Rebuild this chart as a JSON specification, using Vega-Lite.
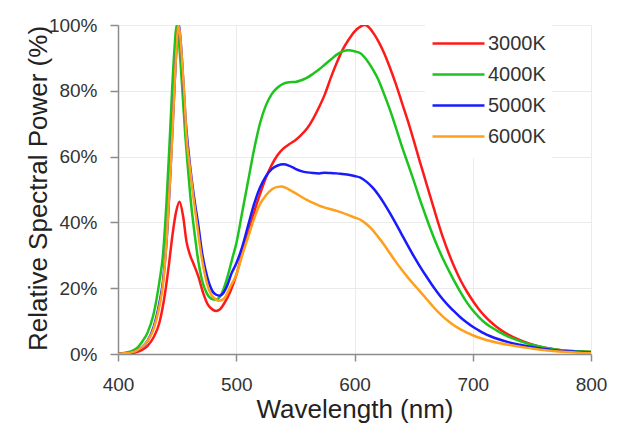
{
  "$schema": "https://vega.github.io/schema/vega-lite/v6.json",
  "width": 473,
  "height": 329,
  "autosize": {"type": "none"},
  "padding": {"left": 118, "top": 25, "right": 32, "bottom": 80},
  "background": "white",
  "config": {"view": {"stroke": null}, "font": "Liberation Sans"},
  "datasets": {
    "spd": [
      {"nm":400,"p":0.1,"s":"3000K"},{"nm":410,"p":0.2,"s":"3000K"},{"nm":415,"p":0.5,"s":"3000K"},{"nm":420,"p":1.2,"s":"3000K"},{"nm":425,"p":2.5,"s":"3000K"},{"nm":430,"p":5,"s":"3000K"},{"nm":435,"p":9.5,"s":"3000K"},{"nm":440,"p":19,"s":"3000K"},{"nm":443,"p":27,"s":"3000K"},{"nm":446,"p":36,"s":"3000K"},{"nm":449,"p":43,"s":"3000K"},{"nm":452,"p":46.3,"s":"3000K"},{"nm":455,"p":42,"s":"3000K"},{"nm":458,"p":34,"s":"3000K"},{"nm":461,"p":30,"s":"3000K"},{"nm":464,"p":27.3,"s":"3000K"},{"nm":468,"p":23.5,"s":"3000K"},{"nm":472,"p":18.6,"s":"3000K"},{"nm":476,"p":15,"s":"3000K"},{"nm":480,"p":13.5,"s":"3000K"},{"nm":483,"p":13.1,"s":"3000K"},{"nm":486,"p":13.5,"s":"3000K"},{"nm":490,"p":15.5,"s":"3000K"},{"nm":495,"p":19,"s":"3000K"},{"nm":500,"p":24,"s":"3000K"},{"nm":505,"p":30.5,"s":"3000K"},{"nm":510,"p":36.5,"s":"3000K"},{"nm":515,"p":43,"s":"3000K"},{"nm":520,"p":48.5,"s":"3000K"},{"nm":525,"p":53.5,"s":"3000K"},{"nm":530,"p":57.5,"s":"3000K"},{"nm":535,"p":60.5,"s":"3000K"},{"nm":540,"p":62.5,"s":"3000K"},{"nm":545,"p":63.8,"s":"3000K"},{"nm":550,"p":65,"s":"3000K"},{"nm":555,"p":66.6,"s":"3000K"},{"nm":560,"p":68.6,"s":"3000K"},{"nm":565,"p":71.5,"s":"3000K"},{"nm":570,"p":75,"s":"3000K"},{"nm":575,"p":79,"s":"3000K"},{"nm":580,"p":84,"s":"3000K"},{"nm":585,"p":88.5,"s":"3000K"},{"nm":590,"p":92.5,"s":"3000K"},{"nm":595,"p":95.5,"s":"3000K"},{"nm":600,"p":98,"s":"3000K"},{"nm":605,"p":99.5,"s":"3000K"},{"nm":609,"p":100,"s":"3000K"},{"nm":613,"p":99,"s":"3000K"},{"nm":617,"p":97,"s":"3000K"},{"nm":621,"p":94.5,"s":"3000K"},{"nm":625,"p":91.5,"s":"3000K"},{"nm":630,"p":87,"s":"3000K"},{"nm":635,"p":82,"s":"3000K"},{"nm":640,"p":76.5,"s":"3000K"},{"nm":645,"p":71,"s":"3000K"},{"nm":650,"p":65,"s":"3000K"},{"nm":655,"p":58.8,"s":"3000K"},{"nm":660,"p":52.8,"s":"3000K"},{"nm":665,"p":46.8,"s":"3000K"},{"nm":670,"p":40.8,"s":"3000K"},{"nm":675,"p":35.2,"s":"3000K"},{"nm":680,"p":30.3,"s":"3000K"},{"nm":685,"p":26,"s":"3000K"},{"nm":690,"p":22.2,"s":"3000K"},{"nm":695,"p":19,"s":"3000K"},{"nm":700,"p":16.2,"s":"3000K"},{"nm":705,"p":13.7,"s":"3000K"},{"nm":710,"p":11.6,"s":"3000K"},{"nm":715,"p":9.8,"s":"3000K"},{"nm":720,"p":8.3,"s":"3000K"},{"nm":730,"p":5.9,"s":"3000K"},{"nm":740,"p":4.2,"s":"3000K"},{"nm":750,"p":2.9,"s":"3000K"},{"nm":760,"p":2,"s":"3000K"},{"nm":770,"p":1.4,"s":"3000K"},{"nm":780,"p":1,"s":"3000K"},{"nm":790,"p":0.8,"s":"3000K"},{"nm":800,"p":0.6,"s":"3000K"},

      {"nm":400,"p":0.2,"s":"4000K"},{"nm":405,"p":0.3,"s":"4000K"},{"nm":410,"p":0.7,"s":"4000K"},{"nm":415,"p":1.5,"s":"4000K"},{"nm":420,"p":3.5,"s":"4000K"},{"nm":425,"p":6.5,"s":"4000K"},{"nm":430,"p":12,"s":"4000K"},{"nm":435,"p":22,"s":"4000K"},{"nm":438,"p":30,"s":"4000K"},{"nm":441,"p":46,"s":"4000K"},{"nm":444,"p":67,"s":"4000K"},{"nm":446,"p":82,"s":"4000K"},{"nm":448,"p":94,"s":"4000K"},{"nm":449.5,"p":100,"s":"4000K"},{"nm":451,"p":97,"s":"4000K"},{"nm":453,"p":88,"s":"4000K"},{"nm":455,"p":77,"s":"4000K"},{"nm":457,"p":66,"s":"4000K"},{"nm":459,"p":57,"s":"4000K"},{"nm":462,"p":45,"s":"4000K"},{"nm":465,"p":36,"s":"4000K"},{"nm":468,"p":28,"s":"4000K"},{"nm":471,"p":22.5,"s":"4000K"},{"nm":475,"p":18.5,"s":"4000K"},{"nm":479,"p":16.8,"s":"4000K"},{"nm":483,"p":16.5,"s":"4000K"},{"nm":486,"p":17.3,"s":"4000K"},{"nm":489,"p":19.5,"s":"4000K"},{"nm":493,"p":24,"s":"4000K"},{"nm":497,"p":29.5,"s":"4000K"},{"nm":500,"p":33.5,"s":"4000K"},{"nm":505,"p":43,"s":"4000K"},{"nm":510,"p":52.5,"s":"4000K"},{"nm":515,"p":62,"s":"4000K"},{"nm":520,"p":70,"s":"4000K"},{"nm":525,"p":75.5,"s":"4000K"},{"nm":530,"p":79,"s":"4000K"},{"nm":535,"p":81,"s":"4000K"},{"nm":540,"p":82.2,"s":"4000K"},{"nm":545,"p":82.6,"s":"4000K"},{"nm":550,"p":82.7,"s":"4000K"},{"nm":555,"p":83.2,"s":"4000K"},{"nm":560,"p":84,"s":"4000K"},{"nm":565,"p":85.2,"s":"4000K"},{"nm":570,"p":86.5,"s":"4000K"},{"nm":575,"p":88,"s":"4000K"},{"nm":580,"p":89.5,"s":"4000K"},{"nm":585,"p":91,"s":"4000K"},{"nm":590,"p":92,"s":"4000K"},{"nm":595,"p":92.3,"s":"4000K"},{"nm":600,"p":92,"s":"4000K"},{"nm":605,"p":91.4,"s":"4000K"},{"nm":610,"p":89.5,"s":"4000K"},{"nm":615,"p":86.8,"s":"4000K"},{"nm":620,"p":83.5,"s":"4000K"},{"nm":625,"p":79,"s":"4000K"},{"nm":630,"p":74.2,"s":"4000K"},{"nm":635,"p":68.8,"s":"4000K"},{"nm":640,"p":63.2,"s":"4000K"},{"nm":645,"p":58,"s":"4000K"},{"nm":650,"p":52.8,"s":"4000K"},{"nm":655,"p":47.3,"s":"4000K"},{"nm":660,"p":42.2,"s":"4000K"},{"nm":665,"p":37.3,"s":"4000K"},{"nm":670,"p":32.8,"s":"4000K"},{"nm":675,"p":28.8,"s":"4000K"},{"nm":680,"p":25.2,"s":"4000K"},{"nm":685,"p":21.8,"s":"4000K"},{"nm":690,"p":18.6,"s":"4000K"},{"nm":695,"p":15.7,"s":"4000K"},{"nm":700,"p":13.3,"s":"4000K"},{"nm":705,"p":11.3,"s":"4000K"},{"nm":710,"p":9.6,"s":"4000K"},{"nm":715,"p":8.3,"s":"4000K"},{"nm":720,"p":7.2,"s":"4000K"},{"nm":730,"p":5.3,"s":"4000K"},{"nm":740,"p":3.9,"s":"4000K"},{"nm":750,"p":2.8,"s":"4000K"},{"nm":760,"p":2,"s":"4000K"},{"nm":770,"p":1.4,"s":"4000K"},{"nm":780,"p":1,"s":"4000K"},{"nm":790,"p":0.8,"s":"4000K"},{"nm":800,"p":0.7,"s":"4000K"},

      {"nm":400,"p":0.1,"s":"5000K"},{"nm":405,"p":0.2,"s":"5000K"},{"nm":410,"p":0.4,"s":"5000K"},{"nm":415,"p":0.9,"s":"5000K"},{"nm":420,"p":2,"s":"5000K"},{"nm":425,"p":4,"s":"5000K"},{"nm":430,"p":8,"s":"5000K"},{"nm":435,"p":15.5,"s":"5000K"},{"nm":438,"p":22,"s":"5000K"},{"nm":441,"p":34,"s":"5000K"},{"nm":444,"p":53,"s":"5000K"},{"nm":446,"p":68,"s":"5000K"},{"nm":448,"p":83,"s":"5000K"},{"nm":450,"p":96,"s":"5000K"},{"nm":451.3,"p":100,"s":"5000K"},{"nm":453,"p":95,"s":"5000K"},{"nm":455,"p":84,"s":"5000K"},{"nm":457,"p":72,"s":"5000K"},{"nm":459.5,"p":62,"s":"5000K"},{"nm":462,"p":54,"s":"5000K"},{"nm":465,"p":46,"s":"5000K"},{"nm":468,"p":39,"s":"5000K"},{"nm":471,"p":31,"s":"5000K"},{"nm":474,"p":25.5,"s":"5000K"},{"nm":477,"p":21.5,"s":"5000K"},{"nm":480,"p":19,"s":"5000K"},{"nm":483,"p":18,"s":"5000K"},{"nm":486,"p":17.7,"s":"5000K"},{"nm":489,"p":18.5,"s":"5000K"},{"nm":492,"p":20.5,"s":"5000K"},{"nm":496,"p":24.5,"s":"5000K"},{"nm":500,"p":27.5,"s":"5000K"},{"nm":505,"p":32.5,"s":"5000K"},{"nm":510,"p":39,"s":"5000K"},{"nm":515,"p":45.5,"s":"5000K"},{"nm":520,"p":50.5,"s":"5000K"},{"nm":525,"p":54,"s":"5000K"},{"nm":530,"p":56.2,"s":"5000K"},{"nm":535,"p":57.3,"s":"5000K"},{"nm":540,"p":57.7,"s":"5000K"},{"nm":545,"p":57.2,"s":"5000K"},{"nm":550,"p":56.3,"s":"5000K"},{"nm":555,"p":55.6,"s":"5000K"},{"nm":560,"p":55.2,"s":"5000K"},{"nm":565,"p":55,"s":"5000K"},{"nm":570,"p":54.9,"s":"5000K"},{"nm":575,"p":55.1,"s":"5000K"},{"nm":580,"p":55,"s":"5000K"},{"nm":585,"p":54.9,"s":"5000K"},{"nm":590,"p":54.7,"s":"5000K"},{"nm":595,"p":54.5,"s":"5000K"},{"nm":600,"p":54.1,"s":"5000K"},{"nm":605,"p":53.6,"s":"5000K"},{"nm":610,"p":52.4,"s":"5000K"},{"nm":615,"p":50.7,"s":"5000K"},{"nm":620,"p":48.5,"s":"5000K"},{"nm":625,"p":45.8,"s":"5000K"},{"nm":630,"p":42.8,"s":"5000K"},{"nm":635,"p":39.6,"s":"5000K"},{"nm":640,"p":36.3,"s":"5000K"},{"nm":645,"p":33,"s":"5000K"},{"nm":650,"p":29.8,"s":"5000K"},{"nm":655,"p":26.8,"s":"5000K"},{"nm":660,"p":24,"s":"5000K"},{"nm":665,"p":21.3,"s":"5000K"},{"nm":670,"p":18.8,"s":"5000K"},{"nm":675,"p":16.5,"s":"5000K"},{"nm":680,"p":14.5,"s":"5000K"},{"nm":685,"p":12.7,"s":"5000K"},{"nm":690,"p":11,"s":"5000K"},{"nm":695,"p":9.6,"s":"5000K"},{"nm":700,"p":8.3,"s":"5000K"},{"nm":705,"p":7.2,"s":"5000K"},{"nm":710,"p":6.2,"s":"5000K"},{"nm":715,"p":5.4,"s":"5000K"},{"nm":720,"p":4.7,"s":"5000K"},{"nm":730,"p":3.6,"s":"5000K"},{"nm":740,"p":2.8,"s":"5000K"},{"nm":750,"p":2.1,"s":"5000K"},{"nm":760,"p":1.5,"s":"5000K"},{"nm":770,"p":1.1,"s":"5000K"},{"nm":780,"p":0.8,"s":"5000K"},{"nm":790,"p":0.6,"s":"5000K"},{"nm":800,"p":0.5,"s":"5000K"},

      {"nm":400,"p":0.1,"s":"6000K"},{"nm":405,"p":0.2,"s":"6000K"},{"nm":410,"p":0.4,"s":"6000K"},{"nm":415,"p":0.9,"s":"6000K"},{"nm":420,"p":2,"s":"6000K"},{"nm":425,"p":4,"s":"6000K"},{"nm":430,"p":7.5,"s":"6000K"},{"nm":435,"p":14.5,"s":"6000K"},{"nm":438,"p":21,"s":"6000K"},{"nm":441,"p":34,"s":"6000K"},{"nm":444,"p":53,"s":"6000K"},{"nm":446,"p":67,"s":"6000K"},{"nm":448,"p":83,"s":"6000K"},{"nm":450,"p":96,"s":"6000K"},{"nm":451,"p":100,"s":"6000K"},{"nm":452.5,"p":97,"s":"6000K"},{"nm":454,"p":90,"s":"6000K"},{"nm":456,"p":79,"s":"6000K"},{"nm":458,"p":66,"s":"6000K"},{"nm":461,"p":56,"s":"6000K"},{"nm":464,"p":47,"s":"6000K"},{"nm":467,"p":39,"s":"6000K"},{"nm":470,"p":31,"s":"6000K"},{"nm":473,"p":25,"s":"6000K"},{"nm":476,"p":20.5,"s":"6000K"},{"nm":479,"p":18,"s":"6000K"},{"nm":482,"p":16.8,"s":"6000K"},{"nm":485,"p":16.2,"s":"6000K"},{"nm":488,"p":16.4,"s":"6000K"},{"nm":491,"p":17.5,"s":"6000K"},{"nm":495,"p":20.5,"s":"6000K"},{"nm":500,"p":24,"s":"6000K"},{"nm":505,"p":30,"s":"6000K"},{"nm":510,"p":35.5,"s":"6000K"},{"nm":515,"p":41,"s":"6000K"},{"nm":520,"p":45.5,"s":"6000K"},{"nm":525,"p":48.2,"s":"6000K"},{"nm":530,"p":50,"s":"6000K"},{"nm":535,"p":50.8,"s":"6000K"},{"nm":538,"p":50.9,"s":"6000K"},{"nm":542,"p":50.5,"s":"6000K"},{"nm":546,"p":49.7,"s":"6000K"},{"nm":550,"p":48.9,"s":"6000K"},{"nm":555,"p":47.8,"s":"6000K"},{"nm":560,"p":46.8,"s":"6000K"},{"nm":565,"p":45.9,"s":"6000K"},{"nm":570,"p":45.1,"s":"6000K"},{"nm":575,"p":44.5,"s":"6000K"},{"nm":580,"p":44,"s":"6000K"},{"nm":585,"p":43.5,"s":"6000K"},{"nm":590,"p":42.9,"s":"6000K"},{"nm":595,"p":42.2,"s":"6000K"},{"nm":600,"p":41.5,"s":"6000K"},{"nm":605,"p":40.8,"s":"6000K"},{"nm":610,"p":39.5,"s":"6000K"},{"nm":615,"p":37.8,"s":"6000K"},{"nm":620,"p":35.6,"s":"6000K"},{"nm":625,"p":33.2,"s":"6000K"},{"nm":630,"p":30.6,"s":"6000K"},{"nm":635,"p":28,"s":"6000K"},{"nm":640,"p":25.6,"s":"6000K"},{"nm":645,"p":23.3,"s":"6000K"},{"nm":650,"p":21.2,"s":"6000K"},{"nm":655,"p":19.2,"s":"6000K"},{"nm":660,"p":17.1,"s":"6000K"},{"nm":665,"p":15,"s":"6000K"},{"nm":670,"p":13,"s":"6000K"},{"nm":675,"p":11.3,"s":"6000K"},{"nm":680,"p":9.8,"s":"6000K"},{"nm":685,"p":8.5,"s":"6000K"},{"nm":690,"p":7.4,"s":"6000K"},{"nm":695,"p":6.5,"s":"6000K"},{"nm":700,"p":5.7,"s":"6000K"},{"nm":705,"p":5,"s":"6000K"},{"nm":710,"p":4.4,"s":"6000K"},{"nm":720,"p":3.5,"s":"6000K"},{"nm":730,"p":2.8,"s":"6000K"},{"nm":740,"p":2.2,"s":"6000K"},{"nm":750,"p":1.7,"s":"6000K"},{"nm":760,"p":1.2,"s":"6000K"},{"nm":770,"p":0.8,"s":"6000K"},{"nm":780,"p":0.6,"s":"6000K"},{"nm":790,"p":0.4,"s":"6000K"},{"nm":800,"p":0.3,"s":"6000K"}
    ]
  },
  "data": {"name": "spd"},
  "mark": {"type": "line", "strokeWidth": 2.5, "interpolate": "monotone", "clip": true},
  "encoding": {
    "x": {
      "field": "nm", "type": "quantitative",
      "scale": {"domain": [400, 800], "nice": false, "zero": false},
      "axis": {
        "values": [400, 500, 600, 700, 800],
        "title": "Wavelength (nm)",
        "labelFlush": false,
        "grid": true, "gridColor": "#ebebeb", "gridWidth": 1,
        "domainColor": "#8c8c8c", "domainWidth": 1.5,
        "tickColor": "#8c8c8c", "tickSize": 7, "tickWidth": 1.5,
        "labelFontSize": 19, "labelColor": "#333333", "labelPadding": 14,
        "labelFont": "Liberation Sans",
        "titleFontSize": 26, "titleFontWeight": "normal", "titleColor": "#222222",
        "titleFont": "Liberation Sans",
        "titleBaseline": "alphabetic", "titleY": 63
      }
    },
    "y": {
      "field": "p", "type": "quantitative",
      "scale": {"domain": [0, 100], "nice": false},
      "axis": {
        "values": [0, 20, 40, 60, 80, 100],
        "labelExpr": "datum.value + '%'",
        "labelFlush": false,
        "title": "Relative Spectral Power (%)",
        "grid": true, "gridColor": "#ebebeb", "gridWidth": 1,
        "domainColor": "#8c8c8c", "domainWidth": 1.5,
        "tickColor": "#8c8c8c", "tickSize": 8, "tickWidth": 1.5,
        "labelFontSize": 19, "labelColor": "#333333", "labelPadding": 13,
        "labelFont": "Liberation Sans",
        "titleFontSize": 26, "titleFontWeight": "normal", "titleColor": "#222222",
        "titleFont": "Liberation Sans",
        "titleX": -80, "titleY": 163, "titleBaseline": "middle", "titleAlign": "center", "titleAngle": -90
      }
    },
    "color": {
      "field": "s", "type": "nominal",
      "scale": {"domain": ["3000K", "4000K", "5000K", "6000K"], "range": ["#ff1a1a", "#1ec41e", "#1a1aff", "#ff9f1a"]},
      "legend": {
        "title": null, "orient": "none", "legendX": 307, "legendY": -3,
        "symbolType": "stroke", "symbolSize": 2700, "symbolStrokeWidth": 2.5,
        "labelFontSize": 20, "labelColor": "#333333", "labelFont": "Liberation Sans", "labelOffset": 2,
        "fillColor": "white", "padding": 6, "rowPadding": 0, "clipHeight": 31
      }
    }
  }
}
